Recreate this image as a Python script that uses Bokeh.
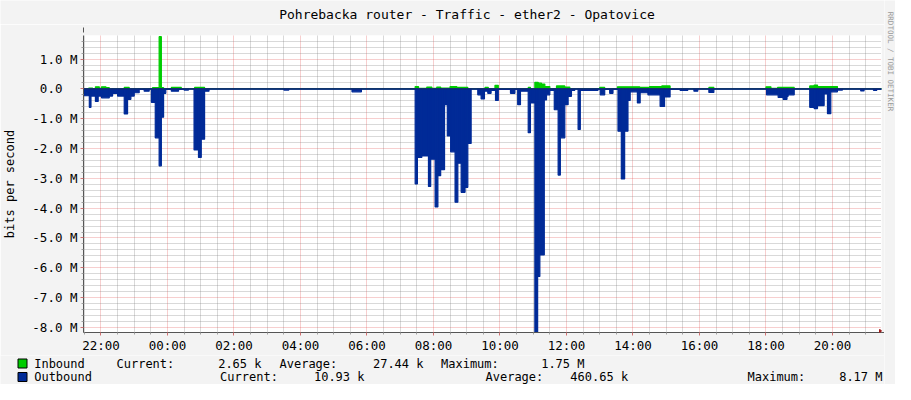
from math import pi
import numpy as np
from bokeh.plotting import figure
from bokeh.layouts import column, row
from bokeh.models import Range1d, FixedTicker, Span, Arrow, NormalHead
from bokeh.core.properties import value
from bokeh.embed import file_html
from bokeh.resources import INLINE

MONO = "DejaVu Sans Mono"

title_text = "Pohrebacka router - Traffic - ether2 - Opatovice"
y_axis_title = "bits per second"
watermark_text = "RRDTOOL / TOBI OETIKER"

# graph window, minutes after 22:00 of the first day
window_start_min = -31.5
window_end_min = 1408.5

# step series: start of each step (minutes after 22:00) and value in Mbit/s
in_start_min = [
    -32, -22, -15, -10, -3, 1, 9, 15, 42, 51, 93, 105, 109, 113, 127, 145, 169, 187,
    567, 573, 588, 597, 606, 613, 630, 642, 662, 693, 699, 711, 717, 771, 775,
    783, 789, 795, 801, 810, 822, 837, 846, 900, 909,
    932, 972, 990, 1012, 1027, 1097, 1106, 1200, 1209, 1221, 1251, 1279, 1287, 1293, 1329]
in_mbps = [
    0.01, 0.03, 0.01, 0.07, 0.02, 0.07, 0.04, 0.01, 0.05, 0.01, 0.04, 1.75, 0.04, 0.01, 0.05, 0.01, 0.05, 0.01,
    0.08, 0.02, 0.06, 0.02, 0.06, 0.03, 0.08, 0.05, 0.01, 0.05, 0.01, 0.12, 0.01, 0.05, 0.01,
    0.22, 0.19, 0.16, 0.08, 0.01, 0.10, 0.06, 0.01, 0.05, 0.01,
    0.07, 0.05, 0.08, 0.10, 0.01, 0.05, 0.01, 0.07, 0.02, 0.05, 0.01, 0.10, 0.13, 0.08, 0.01]

out_start_min = [
    -32, -21, -18, -10, -5, 1, 15, 21, 30, 42, 48, 54, 60, 69, 78, 87,
    91, 98, 105, 109, 113, 117, 127, 140, 150, 158, 168, 176, 181, 187, 195,
    330, 339, 453, 470,
    567, 571, 579, 591, 595, 603, 608, 613, 620, 625, 631, 639, 644, 650, 657, 662, 668,
    680, 686, 692, 698, 704, 712, 717, 739, 747, 752, 757, 771, 775,
    783, 788, 792, 800, 804, 810, 818, 825, 829, 837, 843, 849, 855, 861, 865,
    897, 901, 909, 918, 924, 933, 939, 945, 951, 955, 968, 973, 987, 1009, 1017, 1027,
    1045, 1059, 1070, 1077, 1097, 1106,
    1201, 1222, 1231, 1238, 1240, 1251, 1279, 1287, 1293, 1305, 1311, 1317, 1329, 1338,
    1371, 1377, 1394, 1400]
out_mbps = [
    0.23, 0.62, 0.24, 0.42, 0.24, 0.30, 0.24, 0.15, 0.24, 0.84, 0.35, 0.24, 0.13, 0.02, 0.08, 0.01,
    0.45, 1.64, 2.58, 0.95, 0.15, 0.02, 0.08, 0.02, 0.04, 0.01, 2.05, 2.30, 1.69, 0.08, 0.01,
    0.04, 0.01, 0.10, 0.01,
    3.19, 2.30, 2.25, 3.27, 2.36, 3.96, 2.91, 2.71, 0.53, 1.58, 2.11, 3.80, 2.49, 3.47, 3.30, 1.83, 0.01,
    0.20, 0.34, 0.08, 0.15, 0.05, 0.39, 0.02, 0.15, 0.02, 0.53, 0.08, 1.47, 0.47,
    8.17, 6.29, 5.57, 0.37, 0.20, 0.05, 0.70, 2.89, 1.64, 0.53, 0.25, 0.05, 0.01, 1.36, 0.05,
    0.01, 0.20, 0.02, 0.15, 0.02, 1.42, 3.02, 1.42, 0.39, 0.10, 0.47, 0.13, 0.20, 0.59, 0.27, 0.02,
    0.05, 0.01, 0.08, 0.01, 0.12, 0.01,
    0.20, 0.29, 0.35, 0.25, 0.20, 0.01, 0.62, 0.66, 0.56, 0.17, 0.83, 0.10, 0.04, 0.01,
    0.07, 0.01, 0.05, 0.02]

x_tick_hours = [-2, 0, 2, 4, 6, 8, 10, 12, 14, 16, 18, 20]
x_tick_labels = ["22:00", "00:00", "02:00", "04:00", "06:00", "08:00",
                 "10:00", "12:00", "14:00", "16:00", "18:00", "20:00"]
y_tick_values = [1, 0, -1, -2, -3, -4, -5, -6, -7, -8]
y_tick_labels = ["1.0 M", "0.0\u00a0\u00a0", "-1.0 M", "-2.0 M", "-3.0 M", "-4.0 M",
                 "-5.0 M", "-6.0 M", "-7.0 M", "-8.0 M"]
y_min, y_max = -8.17, 1.79

series_names = ["Inbound", "Outbound"]
series_colors = ["#00CC00", "#002A97"]
stat_names = ["Current:", "Average:", "Maximum:"]
inbound_stats = ["2.65 k", "27.44 k", "1.75 M"]
outbound_stats = ["10.93 k", "460.65 k", "8.17 M"]

assert len(in_start_min) == len(in_mbps)
assert len(out_start_min) == len(out_mbps)

BG = "#F3F3F3"
TOTAL_W, TOTAL_H = 895, 384
WM_W = 11
W = TOTAL_W - WM_W
TITLE_H, MAIN_H, LEG_H = 24, 331, 29


def to_hours(m):
    return -2 + m / 60.0


def step_edges(starts, end):
    lefts = [to_hours(s) for s in starts]
    rights = lefts[1:] + [to_hours(end)]
    return lefts, rights


def strip(width, height, x_range, y_range):
    f = figure(width=width, height=height, x_range=x_range, y_range=y_range,
               output_backend="svg", toolbar_location=None, x_axis_type=None, y_axis_type=None,
               min_border=0, background_fill_color=BG, border_fill_color=BG,
               outline_line_color=None)
    f.frame_align = False
    f.grid.visible = False
    return f


# ---- title strip ----
tfig = strip(W, TITLE_H, Range1d(0, W), Range1d(TITLE_H, 0))
tfig.text(x=[466.5], y=[14], text=[title_text], text_font=value(MONO),
          text_font_size=value("13px"), text_align="center", text_baseline="middle",
          text_color="#000000")

# ---- main graph ----
p = figure(width=W, height=MAIN_H, title=None,
           x_range=Range1d(to_hours(window_start_min), to_hours(window_end_min)),
           y_range=Range1d(y_min, y_max),
           output_backend="svg", toolbar_location=None,
           min_border_left=81, min_border_right=W - 881, min_border_top=11, min_border_bottom=20,
           background_fill_color="#FFFFFF", border_fill_color=BG,
           outline_line_color=None)
p.frame_align = False

x_minor = [h for h in np.arange(-2.5, 21.5, 0.5) if abs(h - round(h / 2) * 2) > 1e-6]
y_minor = [round(v, 1) for v in np.arange(-8.0, 1.8, 0.2) if abs(v - round(v)) > 1e-6]
xt = FixedTicker(ticks=x_tick_hours, minor_ticks=x_minor)
yt = FixedTicker(ticks=y_tick_values, minor_ticks=y_minor)
p.xaxis.ticker = xt
p.xgrid.ticker = xt
p.yaxis.ticker = yt
p.ygrid.ticker = yt
p.xaxis.major_label_overrides = dict(zip(x_tick_hours, x_tick_labels))
p.yaxis.major_label_overrides = dict(zip(y_tick_values, y_tick_labels))

p.grid.grid_line_color = "#E04040"
p.grid.grid_line_alpha = 0.5
p.grid.grid_line_dash = "1 1"
p.grid.minor_grid_line_color = "#808080"
p.grid.minor_grid_line_alpha = 0.6
p.grid.minor_grid_line_dash = "1 1"

for ax in (p.xaxis, p.yaxis):
    ax.axis_line_color = "#555555"
    ax.major_tick_in = 0
    ax.major_tick_out = 3
    ax.minor_tick_in = 0
    ax.minor_tick_out = 2
    ax.major_tick_line_color = "#D07070"
    ax.minor_tick_line_color = "#A0A0A0"
    ax.major_label_text_font = MONO
    ax.major_label_text_font_size = "12.5px"
    ax.major_label_text_color = "#000000"
p.xaxis.major_label_standoff = 2
p.yaxis.major_label_standoff = 3
p.yaxis.axis_label = y_axis_title
p.yaxis.axis_label_text_font = MONO
p.yaxis.axis_label_text_font_size = "12px"
p.yaxis.axis_label_text_font_style = "normal"
p.yaxis.axis_label_text_color = "#000000"
p.yaxis.axis_label_standoff = 12

il, ir = step_edges(in_start_min, window_end_min)
ol, orr = step_edges(out_start_min, window_end_min)
p.quad(left=il, right=ir, bottom=0, top=in_mbps,
       fill_color=series_colors[0], line_color=series_colors[0], line_width=1.2)
p.quad(left=ol, right=orr, top=0, bottom=[-v for v in out_mbps],
       fill_color=series_colors[1], line_color=series_colors[1], line_width=1.2)
p.add_layout(Span(location=0, dimension="width", line_color="#1A2468", line_width=1))

arrow_col = "#A01C1C"
p.add_layout(Arrow(end=NormalHead(size=6, fill_color=arrow_col, line_color=arrow_col),
                   x_start=0, y_start=300, x_end=0, y_end=305,
                   start_units="screen", end_units="screen", line_color="#555555"))
p.add_layout(Arrow(end=NormalHead(size=6, fill_color=arrow_col, line_color=arrow_col),
                   x_start=797, y_start=0, x_end=802, y_end=0,
                   start_units="screen", end_units="screen", line_color="#555555"))

# ---- legend strip ----
lg = strip(W, LEG_H, Range1d(0, W), Range1d(LEG_H, 0))
row_y = [8, 21.5]
stat_label_x = [[116, 279, 440.5], [219.6, 485, 747]]
stat_value_end_x = [[261, 423, 584], [364, 627.6, 882]]
all_stats = [inbound_stats, outbound_stats]
lg.quad(left=[17.5, 17.5], right=[26.5, 26.5],
        top=[y - 4.5 for y in row_y], bottom=[y + 4.5 for y in row_y],
        fill_color=series_colors, line_color="#000000", line_width=1)
lg.text(x=[33.7, 33.7], y=row_y, text=series_names, text_font=value(MONO),
        text_font_size=value("12px"), text_baseline="middle", text_align="left",
        text_color="#000000")
for r in range(2):
    lg.text(x=stat_label_x[r], y=[row_y[r]] * 3, text=stat_names, text_font=value(MONO),
            text_font_size=value("12px"), text_baseline="middle", text_align="left",
            text_color="#000000")
    lg.text(x=stat_value_end_x[r], y=[row_y[r]] * 3, text=all_stats[r], text_font=value(MONO),
            text_font_size=value("12px"), text_baseline="middle", text_align="right",
            text_color="#000000")

# ---- watermark strip at the right, full height ----
wm = strip(WM_W, TOTAL_H, Range1d(0, WM_W), Range1d(0, TOTAL_H))
wm.text(x=[WM_W / 2], y=[TOTAL_H - 61], text=[watermark_text], angle=-pi / 2,
        text_font=value(MONO), text_font_size=value("7.5px"), text_align="center",
        text_baseline="middle", text_color="#9A9A9A")

layout = row(column(tfig, p, lg, spacing=0), wm, spacing=0)
open("out.html", "w").write(file_html(layout, INLINE))
